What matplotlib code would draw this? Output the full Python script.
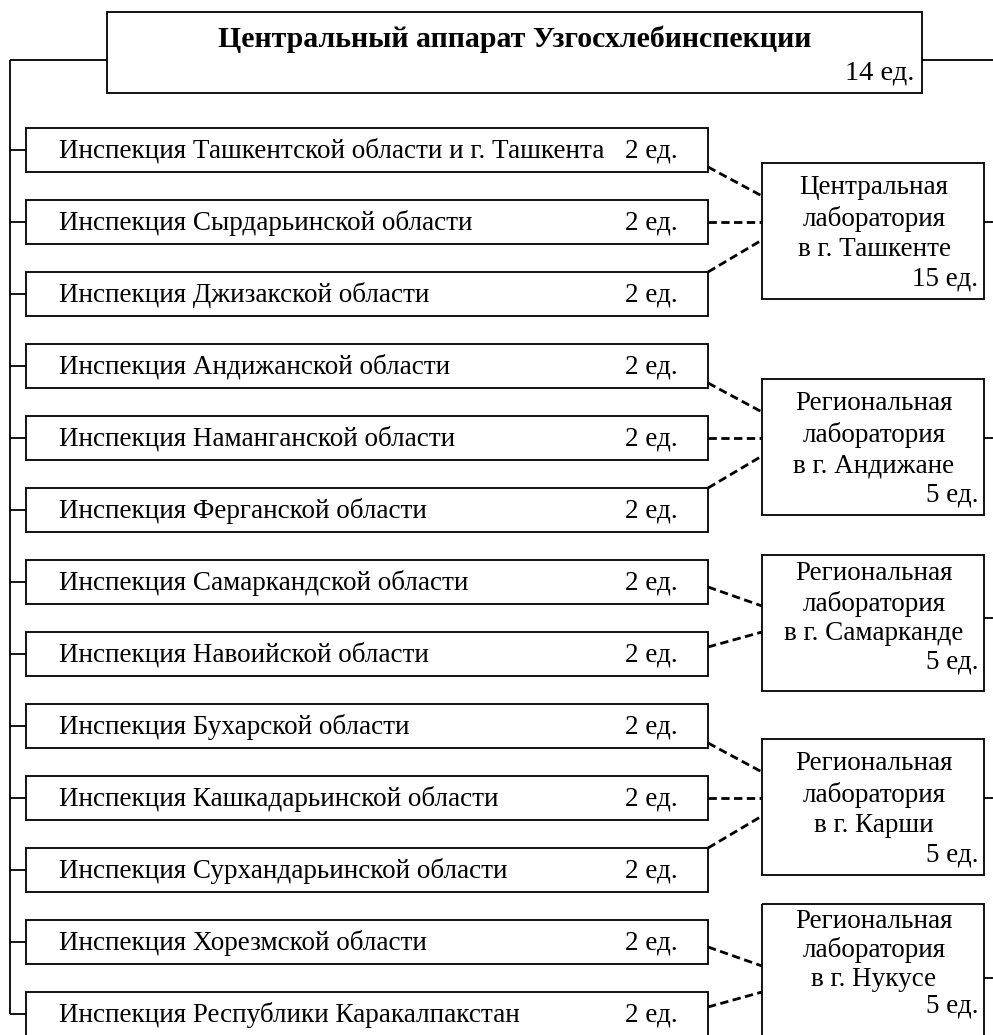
import matplotlib
matplotlib.use("Agg")
from matplotlib import pyplot as plt
from matplotlib.patches import Rectangle

# Chart content
central_title = "Центральный аппарат Узгосхлебинспекции"
central_units = 14

inspections = [
    "Инспекция Ташкентской области и г. Ташкента",
    "Инспекция Сырдарьинской области",
    "Инспекция Джизакской области",
    "Инспекция Андижанской области",
    "Инспекция Наманганской области",
    "Инспекция Ферганской области",
    "Инспекция Самаркандской области",
    "Инспекция Навоийской области",
    "Инспекция Бухарской области",
    "Инспекция Кашкадарьинской области",
    "Инспекция Сурхандарьинской области",
    "Инспекция Хорезмской области",
    "Инспекция Республики Каракалпакстан",
]
inspection_units = [2, 2, 2, 2, 2, 2, 2, 2, 2, 2, 2, 2, 2]

labs = [
    ["Центральная", "лаборатория", "в г. Ташкенте"],
    ["Региональная", "лаборатория", "в г. Андижане"],
    ["Региональная", "лаборатория", "в г. Самарканде"],
    ["Региональная", "лаборатория", "в г. Карши"],
    ["Региональная", "лаборатория", "в г. Нукусе"],
]
lab_units = [15, 5, 5, 5, 5]
lab_groups = [[0, 1, 2], [3, 4, 5], [6, 7], [8, 9, 10], [11, 12]]

# Layout (pixel units, y grows downward)
W, H = 993, 1035
row0, row_step, row_h = 150, 72, 44
box_l, box_r = 26, 708
trunk_x = 10
lab_l, lab_r, lab_h = 762, 984, 136
lab_box_shift = [0, 0, -4, 0, -15]
lab_text_shift = [0, 0, -10, 0, -23]
lab_line_step = [31, 31, 30, 31, 29]
font = "Liberation Serif"
fs = 19.5

fig = plt.figure(figsize=(W / 100, H / 100), dpi=100)
ax = fig.add_axes([0, 0, 1, 1])
ax.set_xlim(0, W)
ax.set_ylim(H, 0)
ax.axis("off")

lw = 1.3
solid = dict(color="black", lw=lw, solid_capstyle="butt")
dashed = dict(color="black", lw=2.0, linestyle=(0, (3, 1.6)))

# Central apparatus box
ax.add_patch(Rectangle((107, 12), 922 - 107, 81, fill=False, ec="black", lw=lw))
ax.text((107 + 922) / 2, 39, central_title, ha="center", va="center",
        family=font, fontweight="bold", fontsize=21.5)
ax.text(914, 73, f"{central_units} ед.", ha="right", va="center",
        family=font, fontsize=20.5)
ax.plot([trunk_x, 107], [60, 60], **solid)
ax.plot([922, W], [60, 60], **solid)

# Inspection boxes along the left trunk
centers = [row0 + row_step * i for i in range(len(inspections))]
ax.plot([trunk_x, trunk_x], [60, centers[-1]], **solid)
for name, units, cy in zip(inspections, inspection_units, centers):
    ax.add_patch(Rectangle((box_l, cy - row_h / 2), box_r - box_l, row_h,
                           fill=False, ec="black", lw=lw))
    ax.plot([trunk_x, box_l], [cy, cy], **solid)
    ax.text(59, cy + 1, name, ha="left", va="center", family=font, fontsize=fs)
    ax.text(625, cy + 1, f"{units} ед.", ha="left", va="center", family=font, fontsize=fs)

# Laboratories with dashed links
for j, (lines, units, group) in enumerate(zip(labs, lab_units, lab_groups)):
    mid = sum(centers[i] for i in group) / len(group)
    top = mid - 59 + lab_box_shift[j]
    ax.add_patch(Rectangle((lab_l, top), lab_r - lab_l, lab_h,
                           fill=False, ec="black", lw=lw))
    ax.plot([lab_r, W], [mid, mid], **solid)
    y0 = mid - 34 + lab_text_shift[j]
    step = lab_line_step[j]
    for k, line in enumerate(lines):
        ax.text((lab_l + lab_r) / 2 + 1, y0 + step * k, line,
                ha="center", va="center", family=font, fontsize=fs)
    ax.text(978, y0 + step * 3 - 2, f"{units} ед.", ha="right",
            va="center", family=font, fontsize=fs)

    a, b = centers[group[0]], centers[group[-1]]
    if len(group) == 3:
        ax.plot([box_r, lab_l], [a + 17, mid - 26], **dashed)
        ax.plot([box_r, lab_l], [mid, mid], **dashed)
        ax.plot([box_r, lab_l], [b - 22, mid + 18], **dashed)
    else:
        ax.plot([box_r, lab_l], [a + 5, mid - 12], **dashed)
        ax.plot([box_r, lab_l], [b - 7, mid + 14], **dashed)

fig.savefig("out.png", dpi=100, facecolor="white")
